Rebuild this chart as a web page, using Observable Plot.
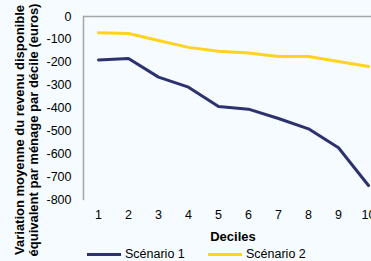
<!DOCTYPE html>
<html>
<head>
<meta charset="utf-8">
<script src="https://cdn.jsdelivr.net/npm/d3@7"></script>
<script src="https://cdn.jsdelivr.net/npm/@observablehq/plot@0.6"></script>
<style>
  html, body { margin: 0; padding: 0; background: #f5fbfe; overflow: hidden; width: 371px; height: 261px; }
  #wrap { position: relative; width: 371px; height: 261px; overflow: hidden; font-family: "Liberation Sans", Arial, sans-serif; }
  #legend { position: absolute; left: 0; top: 247px; height: 14px; width: 371px; font-size: 12.5px; color: #000; line-height: 14px; }
  .item { position: absolute; top: 0; display: flex; align-items: center; height: 14px; }
  .sw { width: 34px; height: 3px; margin-right: 4px; }
</style>
</head>
<body>
<div id="wrap"></div>
<script>
const deciles = [1, 2, 3, 4, 5, 6, 7, 8, 9, 10];
const scenario1 = [-190, -184, -265, -309, -393, -405, -446, -491, -574, -739];
const scenario2 = [-71, -74, -105, -135, -152, -160, -175, -175, -197, -219];
const yTicks = [0, -100, -200, -300, -400, -500, -600, -700, -800];
const seriesNames = ["Scénario 1", "Scénario 2"];
const seriesColors = ["#2d3170", "#ffd320"];
const yTitleLines = ["Variation moyenne du revenu disponible", "équivalent par ménage par décile (euros)"];
const xTitle = "Deciles";

const data = [];
deciles.forEach((d, i) => {
  data.push({decile: d, value: scenario1[i], serie: seriesNames[0]});
  data.push({decile: d, value: scenario2[i], serie: seriesNames[1]});
});

const plot = Plot.plot({
  width: 390,
  height: 247,
  marginLeft: 83,
  marginRight: 7,
  marginTop: 16,
  marginBottom: 48,
  style: {background: "transparent", fontFamily: "Liberation Sans, Arial, sans-serif", fontSize: "12.5px", color: "#000", overflow: "visible", maxWidth: "none"},
  x: {type: "point", domain: deciles, padding: 0.5, label: null},
  y: {domain: [-800, 0], ticks: yTicks, label: null},
  color: {domain: seriesNames, range: seriesColors},
  marks: [
    Plot.frame({anchor: "left", stroke: "#a6a6a6", strokeWidth: 1.5}),
    Plot.ruleY([0], {stroke: "#a6a6a6", strokeWidth: 1.5}),
    Plot.axisY({ticks: yTicks, tickSize: 0, tickPadding: 12, tickFormat: d => String(d), fontSize: 12.5, label: null}),
    Plot.axisX({tickSize: 0, tickPadding: 11, fontSize: 12.5, label: null}),
    Plot.line(data, {x: "decile", y: "value", z: "serie", stroke: "serie", strokeWidth: 3})
  ]
});

const wrap = document.getElementById("wrap");
wrap.appendChild(plot);
plot.style.position = "absolute";
plot.style.left = "0px";
plot.style.top = "0px";
plot.style.maxWidth = "none";

const svg = d3.select(plot);
svg.append("text")
  .attr("x", 233).attr("y", 241)
  .attr("text-anchor", "middle")
  .attr("font-weight", "bold")
  .attr("font-size", 13)
  .attr("fill", "#000")
  .text(xTitle);
yTitleLines.forEach((t, i) => {
  svg.append("text")
    .attr("transform", `translate(${24 + i * 14},130) rotate(-90)`)
    .attr("text-anchor", "middle")
    .attr("font-weight", "bold")
    .attr("font-size", 13)
    .attr("fill", "#000")
    .text(t);
});

const legend = document.createElement("div");
legend.id = "legend";
const lefts = [87, 208];
seriesNames.forEach((n, i) => {
  const it = document.createElement("div");
  it.className = "item";
  it.style.left = lefts[i] + "px";
  const sw = document.createElement("div");
  sw.className = "sw";
  sw.style.background = seriesColors[i];
  const lab = document.createElement("span");
  lab.textContent = n;
  it.appendChild(sw);
  it.appendChild(lab);
  legend.appendChild(it);
});
wrap.appendChild(legend);
</script>
</body>
</html>
